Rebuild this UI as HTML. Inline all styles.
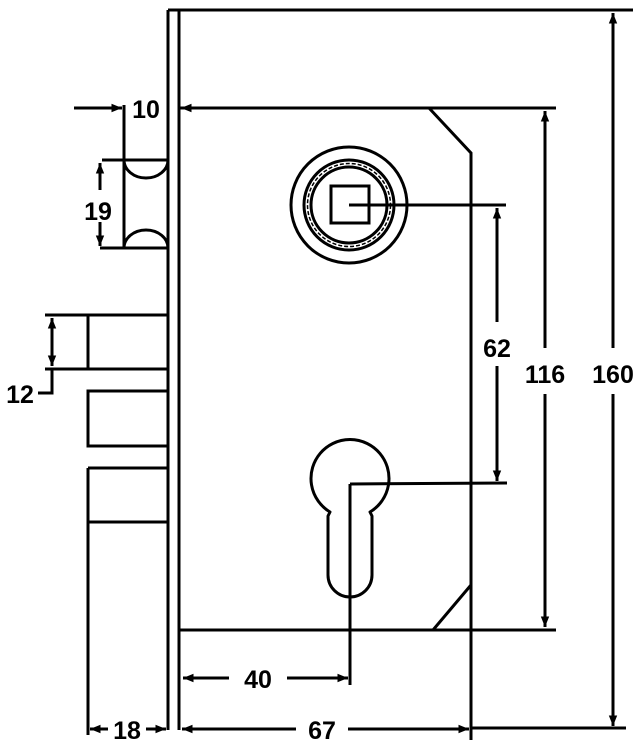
<!DOCTYPE html>
<html><head><style>html,body{margin:0;padding:0;background:#fff}</style></head>
<body>
<svg width="640" height="744" viewBox="0 0 640 744" xmlns="http://www.w3.org/2000/svg" font-family="Liberation Sans, Arial, sans-serif" font-weight="bold" font-size="25">
<defs>
<marker id="a" viewBox="0 0 10 10" refX="10" refY="5" markerWidth="5" markerHeight="3.5" orient="auto-start-reverse" markerUnits="strokeWidth"><path d="M0,1 L10,5 L0,9 z" fill="#000"/></marker>
</defs>
<g stroke="#000" stroke-width="3" fill="none">
<line x1="168" y1="10" x2="633" y2="10"/>
<line x1="168" y1="10" x2="168" y2="730"/>
<line x1="179" y1="10" x2="179" y2="730"/>
<line x1="179" y1="108" x2="556" y2="108"/>
<polyline points="429,108 471,153 471,740"/>
<line x1="179" y1="630" x2="556" y2="630"/>
<line x1="471" y1="585" x2="433" y2="630"/>
<circle cx="349" cy="205" r="58"/>
<circle cx="349" cy="205" r="45"/>
<circle cx="349" cy="205" r="38"/>
<circle cx="349" cy="205" r="41.5" stroke-width="1.5" stroke-dasharray="4 2"/>
<rect x="331" y="186" width="38" height="37"/>
<line x1="349" y1="205" x2="506" y2="205"/>
<path d="M330,512 A39,39 0 1 1 370,512 L372,516 L372,575 A22,22 0 0 1 328,575 L328,516 Z" stroke-linejoin="round"/>
<line x1="350" y1="484" x2="507" y2="483"/>
<line x1="350" y1="484" x2="350" y2="685"/>
<line x1="497" y1="208" x2="497" y2="322" marker-start="url(#a)"/>
<line x1="497" y1="366" x2="497" y2="481" marker-end="url(#a)"/>
<line x1="545" y1="111" x2="545" y2="348" marker-start="url(#a)"/>
<line x1="545" y1="394" x2="545" y2="627" marker-end="url(#a)"/>
<line x1="613" y1="13" x2="613" y2="348" marker-start="url(#a)"/>
<line x1="613" y1="394" x2="613" y2="726" marker-end="url(#a)"/>
<line x1="183" y1="678" x2="229" y2="678" marker-start="url(#a)"/>
<line x1="287" y1="678" x2="348" y2="678" marker-end="url(#a)"/>
<line x1="182" y1="729" x2="296" y2="729" marker-start="url(#a)"/>
<line x1="348" y1="729" x2="469" y2="729" marker-end="url(#a)"/>
<line x1="471" y1="728" x2="626" y2="728"/>
<line x1="90" y1="729" x2="108" y2="729" marker-start="url(#a)"/>
<line x1="146" y1="729" x2="166" y2="729" marker-end="url(#a)"/>
<line x1="88" y1="468" x2="88" y2="735"/>
<line x1="45" y1="315" x2="168" y2="315"/>
<line x1="45" y1="369" x2="168" y2="369"/>
<line x1="88" y1="315" x2="88" y2="369"/>
<rect x="88" y="391" width="80" height="55"/>
<line x1="88" y1="468" x2="168" y2="468"/>
<line x1="88" y1="522" x2="168" y2="522"/>
<line x1="52" y1="318" x2="52" y2="342" marker-start="url(#a)"/>
<line x1="52" y1="342" x2="52" y2="366" marker-end="url(#a)"/>
<polyline points="52,369 52,393 38,393"/>
<line x1="102" y1="160" x2="168" y2="160"/>
<line x1="100" y1="248" x2="168" y2="248"/>
<line x1="124" y1="105" x2="124" y2="248"/>
<path d="M124,160 A22,18 0 0 0 168,160"/>
<path d="M124,248 A22,18 0 0 1 168,248"/>
<line x1="100" y1="163" x2="100" y2="190" marker-start="url(#a)"/>
<line x1="100" y1="222" x2="100" y2="246" marker-end="url(#a)"/>
<line x1="74" y1="108" x2="122" y2="108" marker-end="url(#a)"/>
<line x1="210" y1="108" x2="181" y2="108" marker-end="url(#a)"/>
</g>
<g text-anchor="middle" fill="#000">
<text x="146" y="118">10</text>
<text x="98" y="220">19</text>
<text x="20" y="403">12</text>
<text x="497" y="357">62</text>
<text x="545" y="383">116</text>
<text x="613" y="383">160</text>
<text x="258" y="688">40</text>
<text x="322" y="739">67</text>
<text x="127" y="739">18</text>
</g>
</svg>
</body></html>
